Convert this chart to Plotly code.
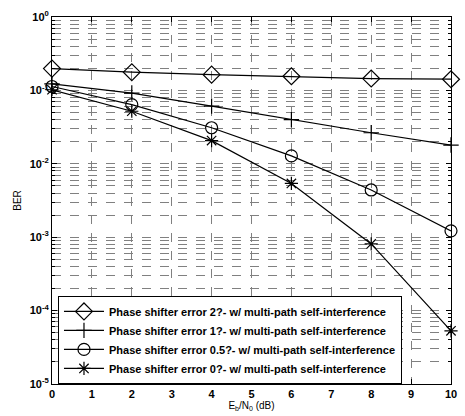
import plotly.graph_objects as go

snr_db = [0, 2, 4, 6, 8, 10]
ber_err2 = [0.198, 0.177, 0.164, 0.156, 0.145, 0.142]
ber_err1 = [0.123, 0.092, 0.061, 0.040, 0.0265, 0.018]
ber_err05 = [0.113, 0.064, 0.031, 0.0128, 0.0044, 0.00122]
ber_err0 = [0.102, 0.052, 0.0207, 0.0054, 0.00081, 0.000053]

names = [
    "Phase shifter error 2?- w/ multi-path self-interference",
    "Phase shifter error 1?- w/ multi-path self-interference",
    "Phase shifter error 0.5?- w/ multi-path self-interference",
    "Phase shifter error 0?- w/ multi-path self-interference",
]
series = [ber_err2, ber_err1, ber_err05, ber_err0]
symbols = ["diamond-open", "cross-thin-open", "circle-open", "asterisk-open"]
sizes = [13, 11, 12, 11]

x_ticks = list(range(0, 11))
y_tickvals = [1, 1e-1, 1e-2, 1e-3, 1e-4, 1e-5]
y_ticktext = ["<b>10<sup>0</sup></b>", "<b>10<sup>-1</sup></b>", "<b>10<sup>-2</sup></b>",
              "<b>10<sup>-3</sup></b>", "<b>10<sup>-4</sup></b>", "<b>10<sup>-5</sup></b>"]

minor_vals = [m * 10.0 ** e for e in range(-5, 0) for m in range(2, 10)]

fig = go.Figure()
for n, s, sym, sz in zip(names, series, symbols, sizes):
    fig.add_trace(go.Scatter(
        x=snr_db, y=s, name="<b>" + n + "</b>", mode="lines+markers",
        line=dict(color="black", width=1.2),
        marker=dict(symbol=sym, size=sz, color="black", line=dict(color="black", width=1.2)),
        cliponaxis=False,
    ))

fig.update_layout(
    width=465, height=416,
    margin=dict(l=52, r=8, t=17, b=29),
    paper_bgcolor="white", plot_bgcolor="white",
    font=dict(family="Liberation Sans, Arial", size=10, color="black"),
    showlegend=True,
    legend=dict(
        x=0.015, y=0.24, xanchor="left", yanchor="top",
        bgcolor="white", bordercolor="black", borderwidth=1,
        font=dict(size=11, color="black"),
        itemwidth=40, tracegroupgap=0,
    ),
)

fig.update_xaxes(
    range=[0, 10], tickvals=x_ticks, ticktext=["<b>%d</b>" % v for v in x_ticks],
    ticks="inside", ticklen=5, tickcolor="black",
    showline=True, linecolor="black", linewidth=1, mirror="ticks",
    showgrid=True, gridcolor="#808080", griddash="dash", gridwidth=1,
    zeroline=False, ticklabeloverflow="allow",
    title=dict(text="E<sub>b</sub>/N<sub>0</sub> (dB)", standoff=1, font=dict(size=10)),
    tickfont=dict(size=11),
)
fig.update_yaxes(
    type="log", range=[-5, 0],
    tickvals=y_tickvals, ticktext=y_ticktext,
    ticks="inside", ticklen=5, tickcolor="black",
    showline=True, linecolor="black", linewidth=1, mirror="ticks",
    showgrid=True, gridcolor="#808080", griddash="dash", gridwidth=1,
    zeroline=False,
    minor=dict(tickvals=minor_vals, ticks="inside", ticklen=3, tickcolor="black",
               showgrid=True, gridcolor="#808080", griddash="dash", gridwidth=1),
    title=dict(text="BER", standoff=6, font=dict(size=10)),
    tickfont=dict(size=11),
)

fig.write_html("out.html", config={"displayModeBar": False})

with open("out.html", "r", encoding="utf-8") as f:
    html = f.read()
html = html.replace("<head>", "<head><style>html,body{margin:0;padding:0;overflow:hidden;}</style>", 1)
with open("out.html", "w", encoding="utf-8") as f:
    f.write(html)
